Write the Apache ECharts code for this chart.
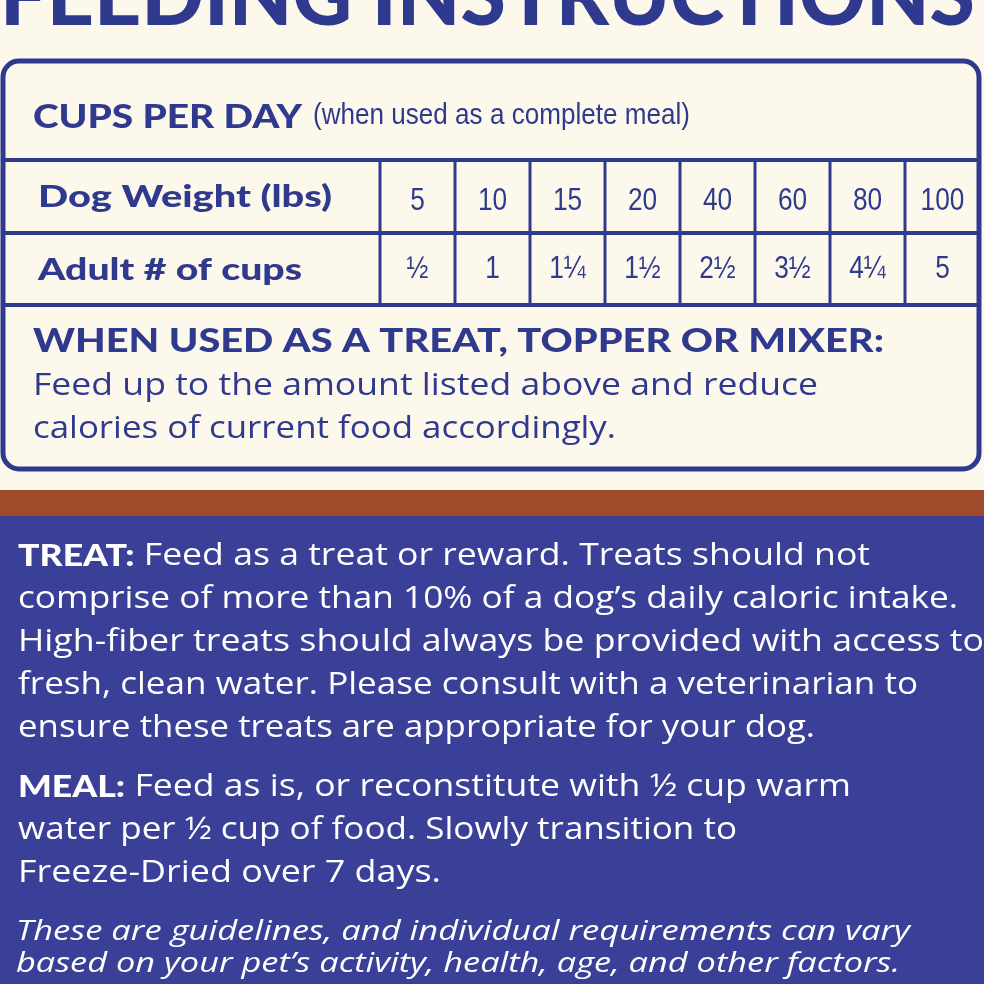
<!DOCTYPE html>
<html><head><meta charset="utf-8">
<script src="https://cdn.jsdelivr.net/npm/echarts@6/dist/echarts.min.js"></script>
<style>html,body{margin:0;padding:0;background:#fdf8ec}#c{width:984px;height:984px}</style>
</head><body><div id="c"></div>
<script>
var weights = ['5', '10', '15', '20', '40', '60', '80', '100'];
var cups = ['½', '1', '1¼', '1½', '2½', '3½', '4¼', '5'];
var treatLines = [
  'Feed as a treat or reward. Treats should not',
  'comprise of more than 10% of a dog\u2019s daily caloric intake.',
  'High-fiber treats should always be provided with access to',
  'fresh, clean water. Please consult with a veterinarian to',
  'ensure these treats are appropriate for your dog.'
];
var treatWidths = [852, 940, 966, 900, 797];
var mealLines = [
  'Feed as is, or reconstitute with ½ cup warm',
  'water per ½ cup of food. Slowly transition to',
  'Freeze-Dried over 7 days.'
];
var mealWidths = [833, 719, 423];
var noteLines = [
  'These are guidelines, and individual requirements can vary',
  'based on your pet\u2019s activity, health, age, and other factors.'
];
var noteWidths = [894, 884];

var chart = echarts.init(document.getElementById('c'));
var blue = '#2f3a8f', cream = '#fdf8ec', navy = '#3a3f98';
var REG = '"Open Sans", sans-serif', BOLD = 'Lato, sans-serif', NARROW = '"Liberation Sans", sans-serif';
var ctx = document.createElement('canvas').getContext('2d');
function measure(s, font) { ctx.font = font; return ctx.measureText(s).width; }
var g = [];
// text squeezed/stretched to the width it has in the reference
function fit(x, y, s, font, color, width, align) {
  var sc = width ? width / measure(s, font) : 1;
  g.push({ type: 'text', x: x, y: y, scaleX: sc, style: { text: s, fill: color, font: font, textAlign: align || 'left', textVerticalAlign: 'middle' } });
}
function labelled(y, label, s, size, width) {
  var fb = '900 ' + size + 'px ' + BOLD, fr = '400 ' + size + 'px ' + REG;
  var wb = measure(label, fb), gap = measure(' ', fr), wr = measure(s, fr);
  var sc = width / (wb + gap + wr);
  g.push({ type: 'text', x: 18, y: y, scaleX: sc, style: { text: label, fill: '#fff', font: fb, textVerticalAlign: 'middle' } });
  g.push({ type: 'text', x: 18 + (wb + gap) * sc, y: y, scaleX: sc, style: { text: s, fill: '#fff', font: fr, textVerticalAlign: 'middle' } });
}
// title, clipped at the top
g.push({ type: 'text', x: 0, y: 40, scaleX: 975 / measure('FEEDING INSTRUCTIONS', '900 84px ' + BOLD),
  style: { text: 'FEEDING INSTRUCTIONS', fill: blue, font: '900 84px ' + BOLD, textVerticalAlign: 'bottom' } });
// table box
g.push({ type: 'rect', shape: { x: 3, y: 61, width: 976, height: 408, r: 16 }, style: { fill: cream, stroke: blue, lineWidth: 5 } });
[160, 233, 305].forEach(function (y) {
  g.push({ type: 'line', shape: { x1: 3, y1: y, x2: 979, y2: y }, style: { stroke: blue, lineWidth: 4 } });
});
var x0 = 380, cw = 75;
for (var i = 0; i < weights.length; i++) {
  var xl = x0 + i * cw;
  g.push({ type: 'line', shape: { x1: xl, y1: 160, x2: xl, y2: 305 }, style: { stroke: blue, lineWidth: 3 } });
  g.push({ type: 'text', x: xl + cw / 2, y: 201, scaleX: 0.82, style: { text: weights[i], fill: blue, font: '400 32px ' + NARROW, textAlign: 'center', textVerticalAlign: 'middle' } });
  g.push({ type: 'text', x: xl + cw / 2, y: 269, scaleX: 0.82, style: { text: cups[i], fill: blue, font: '400 32px ' + NARROW, textAlign: 'center', textVerticalAlign: 'middle' } });
}
fit(33, 118, 'CUPS PER DAY', '900 32px ' + BOLD, blue, 269);
fit(313, 116, '(when used as a complete meal)', '400 30px ' + NARROW, blue, 377);
fit(38, 197, 'Dog Weight (lbs)', '900 31px ' + BOLD, blue, 294);
fit(38, 270, 'Adult # of cups', '900 31px ' + BOLD, blue, 264);
fit(33, 342, 'WHEN USED AS A TREAT, TOPPER OR MIXER:', '900 32px ' + BOLD, blue, 851);
fit(33, 386, 'Feed up to the amount listed above and reduce', '400 31px ' + REG, blue, 785);
fit(33, 429, 'calories of current food accordingly.', '400 31px ' + REG, blue, 583);
// bands
g.push({ type: 'rect', shape: { x: 0, y: 490, width: 984, height: 26 }, style: { fill: '#a04a2c' } });
g.push({ type: 'rect', shape: { x: 0, y: 516, width: 984, height: 468 }, style: { fill: navy } });
// bottom text
treatLines.forEach(function (s, k) {
  if (k === 0) labelled(556, 'TREAT:', s, 31, treatWidths[k]);
  else fit(18, 556 + k * 43, s, '400 31px ' + REG, '#fff', treatWidths[k]);
});
mealLines.forEach(function (s, k) {
  if (k === 0) labelled(787, 'MEAL:', s, 31, mealWidths[k]);
  else fit(18, 787 + k * 43, s, '400 31px ' + REG, '#fff', mealWidths[k]);
});
noteLines.forEach(function (s, k) {
  fit(16, 932 + k * 32, s, 'italic 400 28px ' + REG, '#fff', noteWidths[k]);
});
chart.setOption({ backgroundColor: cream, graphic: g });
</script></body></html>
